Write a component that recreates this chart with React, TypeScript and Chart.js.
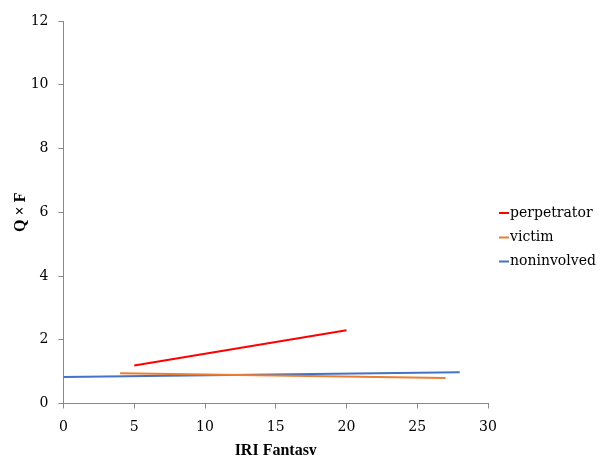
import React, { useEffect, useRef } from "react";
import { Chart, registerables } from "chart.js";

Chart.register(...registerables);

const seriesNames = ["perpetrator", "victim", "noninvolved"];
const seriesColors = ["#FF0000", "#ED7D31", "#4472C4"];
const perpetratorX = [5, 20];
const perpetratorY = [1.19, 2.3];
const victimX = [4, 27];
const victimY = [0.95, 0.8];
const noninvolvedX = [0, 28];
const noninvolvedY = [0.83, 0.98];
const xTitle = "IRI Fantasy";
const yTitle = "Q × F";

const FONT = "'DejaVu Serif', serif";
const TITLE_FONT = "'Liberation Serif', serif";

const toPoints = (xs: number[], ys: number[]) => xs.map((x, i) => ({ x, y: ys[i] }));

const legendPlugin = {
  id: "sideLegend",
  afterDraw(chart: any) {
    const ctx = chart.ctx;
    const x0 = 499;
    const rows = [213, 237.5, 261.5];
    ctx.save();
    ctx.font = `14px ${FONT}`;
    ctx.textBaseline = "middle";
    ctx.textAlign = "left";
    chart.data.datasets.forEach((ds: any, i: number) => {
      const y = rows[i];
      ctx.strokeStyle = ds.borderColor;
      ctx.lineWidth = 2;
      ctx.beginPath();
      ctx.moveTo(x0, y);
      ctx.lineTo(x0 + 10, y);
      ctx.stroke();
      ctx.fillStyle = "#000";
      ctx.fillText(ds.label, x0 + 11, y);
    });
    ctx.restore();
  },
};

export default function App() {
  const ref = useRef<HTMLCanvasElement | null>(null);
  useEffect(() => {
    if (!ref.current) return;
    const sets = [
      toPoints(perpetratorX, perpetratorY),
      toPoints(victimX, victimY),
      toPoints(noninvolvedX, noninvolvedY),
    ];
    const chart = new Chart(ref.current, {
      type: "scatter",
      data: {
        datasets: sets.map((d, i) => ({
          label: seriesNames[i],
          data: d,
          showLine: true,
          borderColor: seriesColors[i],
          backgroundColor: seriesColors[i],
          borderWidth: 2,
          pointRadius: 0,
          pointHoverRadius: 0,
        })),
      },
      options: {
        responsive: false,
        animation: false,
        layout: { padding: { left: 0, right: 113, top: 21, bottom: 0 } },
        plugins: { legend: { display: false }, tooltip: { enabled: false } },
        scales: {
          x: {
            type: "linear",
            min: 0,
            max: 30,
            afterFit: (s: any) => {
              s.height = 51.5;
            },
            ticks: {
              stepSize: 5,
              padding: 10,
              color: "#000",
              font: { family: FONT, size: 14 },
            },
            grid: { display: true, drawOnChartArea: false, tickLength: 5, color: "#898989" },
            border: { color: "#898989", width: 1 },
            title: {
              display: true,
              text: xTitle,
              color: "#000",
              font: { family: TITLE_FONT, size: 16, weight: "bold", lineHeight: 0.9 },
              padding: { top: 0, bottom: -3 },
            },
          },
          y: {
            type: "linear",
            min: 0,
            max: 12,
            afterFit: (s: any) => {
              s.width = 63.5;
            },
            ticks: {
              stepSize: 2,
              padding: 10,
              color: "#000",
              font: { family: FONT, size: 14 },
            },
            grid: { display: true, drawOnChartArea: false, tickLength: 5, color: "#898989" },
            border: { color: "#898989", width: 1 },
            title: {
              display: true,
              text: yTitle,
              color: "#000",
              font: { family: TITLE_FONT, size: 16, weight: "bold", lineHeight: 1 },
              padding: { top: 12.5, bottom: 0 },
            },
          },
        },
      },
      plugins: [legendPlugin],
    });
    return () => chart.destroy();
  }, []);
  return (
    <div style={{ position: "absolute", left: 0, top: 0, width: 601, height: 455, background: "#fff" }}>
      <canvas ref={ref} width={601} height={455} />
    </div>
  );
}
